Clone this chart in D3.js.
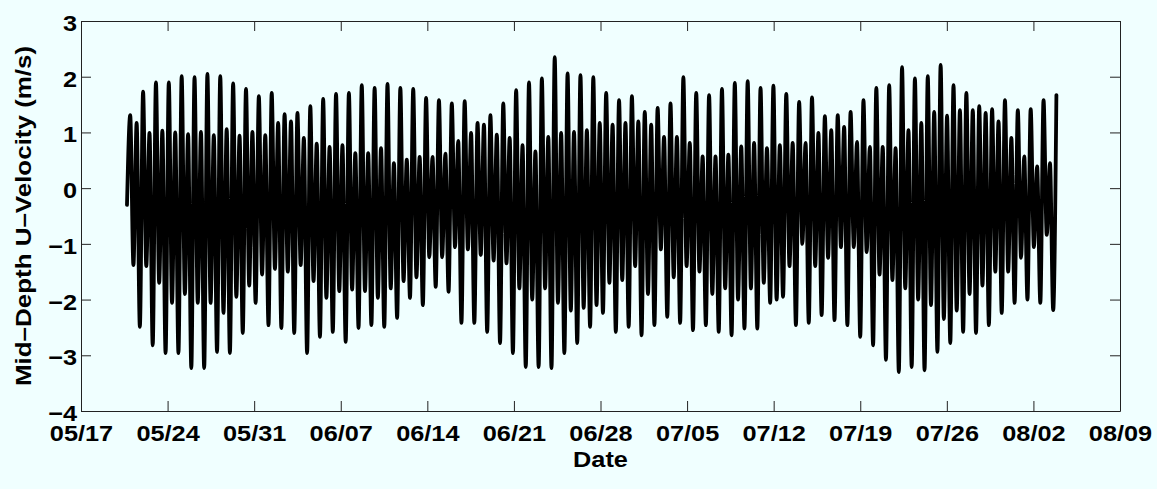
<!DOCTYPE html>
<html>
<head>
<meta charset="utf-8">
<script src="https://cdn.jsdelivr.net/npm/d3@7"></script>
<style>
  html, body { margin: 0; padding: 0; background: #f0ffff; }
  svg { display: block; }
  text { font-family: "Liberation Sans", Arial, Helvetica, sans-serif; font-weight: bold; }
</style>
</head>
<body>
<script>
// axis ticks
var dateTicks = ['05/17', '05/24', '05/31', '06/07', '06/14', '06/21', '06/28',
                 '07/05', '07/12', '07/19', '07/26', '08/02', '08/09'];
var velTicks = [-4, -3, -2, -1, 0, 1, 2, 3];

// first sample and spacing between successive turning points (hours)
var startTime = '05/20 17:15';
var stepHours = 6.24;

// one tidal day each: big ebb, big flood, small ebb, small flood (m/s)
var bigLow = [
    -0.3, -2.49, -2.82, -2.96, -2.96, -3.23, -3.23, -2.94, -2.96, -2.6, -2.06, -2.46, -2.51,
    -2.6, -2.96, -2.67, -2.58, -2.76, -2.51, -2.46, -2.49, -2.33, -1.97, -2.1, -1.77, -1.86, -2.42,
    -2.42, -2.58, -2.78, -2.96, -3.21, -3.21, -3.23, -2.96, -2.78, -2.49, -2.24, -2.58, -2.49,
    -2.64, -2.46, -2.31, -2.42, -2.55, -2.46, -2.58, -2.64, -2.52, -2.52, -2.06, -1.95, -2.46, -2.42,
    -2.28, -2.37, -2.46, -2.67, -2.82, -3.08, -3.3, -3.21, -3.27, -2.94, -2.78, -2.58, -2.6, -2.46,
    -2.24, -2.06, -2.0, -2.06, -2.19
];
var bigHigh = [
    1.31, 1.73, 1.9, 1.9, 2.01, 1.99, 2.05, 2.01, 1.88, 1.78, 1.65, 1.71, 1.33,
    1.35, 1.47, 1.6, 1.69, 1.71, 1.85, 1.8, 1.87, 1.8, 1.78, 1.62, 1.58, 1.52, 1.56,
    1.17, 1.31, 1.52, 1.76, 1.9, 1.97, 2.35, 2.06, 2.03, 1.99, 1.71, 1.58, 1.65,
    1.37, 1.44, 1.52, 1.99, 1.71, 1.67, 1.78, 1.89, 1.92, 1.8, 1.84, 1.69, 1.55, 1.63,
    1.29, 1.31, 1.37, 1.58, 1.8, 1.85, 2.17, 1.97, 2.01, 2.21, 1.85, 1.71, 1.47, 1.42,
    1.58, 1.4, 1.42, 1.58, 1.67
];
var smallLow = [
    -1.38, -1.4, -1.7, -2.06, -1.9, -2.06, -2.06, -2.24, -1.95, -1.75, -1.55, -1.45, -1.5,
    -1.38, -1.67, -1.97, -1.85, -1.82, -1.85, -1.97, -1.8, -1.67, -1.6, -1.24, -1.24, -1.06, -1.1,
    -1.2, -1.3, -1.35, -1.8, -2.0, -1.8, -2.06, -2.2, -2.15, -2.1, -1.7, -1.65, -1.4,
    -1.9, -1.1, -1.6, -1.4, -1.5, -1.9, -1.8, -2.0, -1.8, -1.7, -2.0, -1.4, -1.0, -1.4,
    -1.25, -1.06, -1.06, -1.15, -1.55, -1.65, -1.8, -2.0, -2.1, -2.35, -2.2, -1.9, -1.75, -1.5,
    -1.5, -1.25, -1.06, -0.84
];
var smallHigh = [
    1.17, 0.99, 1.03, 1.0, 0.97, 1.01, 0.95, 1.06, 0.94, 1.01, 0.95, 1.17, 1.2,
    0.9, 0.8, 0.74, 0.77, 0.63, 0.63, 0.72, 0.45, 0.51, 0.56, 0.56, 0.62, 0.85, 0.99,
    1.14, 0.96, 0.9, 0.77, 0.66, 0.92, 0.99, 1.01, 1.04, 1.17, 1.14, 1.17, 1.2,
    1.14, 0.92, 0.92, 0.81, 0.57, 0.57, 0.6, 0.75, 0.81, 0.72, 0.77, 0.81, 0.81, 0.99,
    1.04, 1.1, 0.83, 0.74, 0.74, 0.72, 1.04, 1.17, 1.37, 1.3, 1.4, 1.4, 1.35, 1.2,
    0.9, 0.57, 0.39, 0.45
];

var W = 1157, H = 489;
var plotL = 81, plotR = 1120, plotT = 21, plotB = 411;
var textStretch = 1.15;

var parseDay = d3.timeParse('%m/%d');
var parseTime = d3.timeParse('%m/%d %H:%M');

var svg = d3.select('body')
    .append('svg')
    .attr('width', W)
    .attr('height', H)
    .style('background-color', '#f0ffff');

var x = d3.scaleTime()
    .domain([parseDay(dateTicks[0]), parseDay(dateTicks[dateTicks.length - 1])])
    .range([plotL, plotR]);

var y = d3.scaleLinear()
    .domain([velTicks[0], velTicks[velTicks.length - 1]])
    .range([plotB, plotT]);

// turning points in time order
var series = [];
var t0 = parseTime(startTime);
for (var d = 0; d < bigHigh.length; d++) {
    var vals = [bigLow[d], bigHigh[d], smallLow[d], smallHigh[d]];
    for (var k = 0; k < vals.length; k++) {
        if (vals[k] === undefined) continue;
        series.push({
            t: new Date(t0.getTime() + series.length * stepHours * 3600 * 1000),
            v: vals[k]
        });
    }
}

var line = d3.line()
    .x(function (d) { return x(d.t); })
    .y(function (d) { return y(d.v); })
    .curve(d3.curveMonotoneX);

svg.append('path')
    .datum(series)
    .attr('d', line)
    .attr('fill', 'none')
    .attr('stroke', '#000')
    .attr('stroke-width', 3.8)
    .attr('stroke-linejoin', 'round')
    .attr('stroke-linecap', 'round');

var tickDates = dateTicks.map(function (s) { return parseDay(s); });
var axisColor = '#222';

// bottom and top
var xAxis = svg.append('g')
    .attr('transform', 'translate(0,' + plotB + ')')
    .call(d3.axisBottom(x)
        .tickValues(tickDates)
        .tickFormat(d3.timeFormat('%m/%d'))
        .tickSizeInner(-10)
        .tickSizeOuter(0)
        .tickPadding(14));

svg.append('g')
    .attr('transform', 'translate(0,' + plotT + ')')
    .call(d3.axisTop(x)
        .tickValues(tickDates)
        .tickFormat('')
        .tickSizeInner(-10)
        .tickSizeOuter(0));

// left and right
var yAxis = svg.append('g')
    .attr('transform', 'translate(' + plotL + ',0)')
    .call(d3.axisLeft(y)
        .tickValues(velTicks)
        .tickFormat(d3.format('d'))
        .tickSizeInner(-10)
        .tickSizeOuter(0)
        .tickPadding(3.5));

svg.append('g')
    .attr('transform', 'translate(' + plotR + ',0)')
    .call(d3.axisRight(y)
        .tickValues(velTicks)
        .tickFormat('')
        .tickSizeInner(-10)
        .tickSizeOuter(0));

svg.selectAll('.domain, .tick line')
    .attr('stroke', axisColor)
    .attr('stroke-width', 1);

xAxis.selectAll('text')
    .attr('fill', '#000')
    .style('font-size', '22px')
    .attr('transform', 'scale(' + textStretch + ',1)');

yAxis.selectAll('text')
    .attr('fill', '#000')
    .attr('dy', '0.43em')
    .style('font-size', '22px')
    .attr('transform', 'scale(' + textStretch + ',1)');

// axis titles
svg.append('text')
    .attr('transform', 'translate(' + ((plotL + plotR) / 2) + ',467) scale(' + textStretch + ',1)')
    .attr('text-anchor', 'middle')
    .style('font-size', '22px')
    .text('Date');

svg.append('text')
    .attr('transform', 'translate(31,' + ((plotT + plotB) / 2) + ') rotate(-90) scale(1.18,1)')
    .attr('text-anchor', 'middle')
    .style('font-size', '22px')
    .text('Mid–Depth U–Velocity (m/s)');
</script>
</body>
</html>
